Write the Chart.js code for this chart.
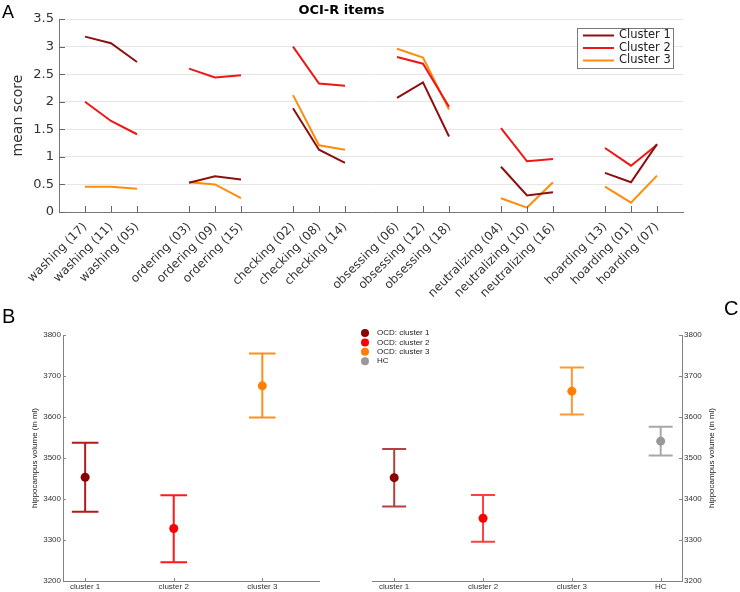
<!DOCTYPE html>
<html>
<head>
<meta charset="utf-8">
<script src="https://cdn.jsdelivr.net/npm/chart.js@4.4.0/dist/chart.umd.min.js"></script>
<style>
  body { margin: 0; background: #fff; width: 740px; height: 592px; position: relative; overflow: hidden; }
  canvas { position: absolute; }
</style>
</head>
<body>
<canvas id="chartA" width="740" height="300" style="left:0;top:0"></canvas>
<canvas id="chartB" width="370" height="302" style="left:0;top:290px"></canvas>
<canvas id="chartC" width="400" height="302" style="left:340px;top:290px"></canvas>
<script>
// panel A: OCI-R item means
const itemLabels = [
  "washing (17)", "washing (11)", "washing (05)",
  "ordering (03)", "ordering (09)", "ordering (15)",
  "checking (02)", "checking (08)", "checking (14)",
  "obsessing (06)", "obsessing (12)", "obsessing (18)",
  "neutralizing (04)", "neutralizing (10)", "neutralizing (16)",
  "hoarding (13)", "hoarding (01)", "hoarding (07)"
];
const itemPos = [1, 2, 3, 5, 6, 7, 9, 10, 11, 13, 14, 15, 17, 18, 19, 21, 22, 23];
const cluster1 = [3.18, 3.06, 2.72, 0.53, 0.65, 0.59, 1.88, 1.13, 0.89, 2.07, 2.35, 1.37, 0.82, 0.30, 0.36, 0.71, 0.54, 1.23];
const cluster2 = [2.00, 1.65, 1.41, 2.60, 2.44, 2.48, 3.00, 2.33, 2.29, 2.81, 2.69, 1.91, 1.52, 0.92, 0.96, 1.16, 0.84, 1.22];
const cluster3 = [0.46, 0.46, 0.42, 0.54, 0.50, 0.25, 2.12, 1.21, 1.13, 2.96, 2.80, 1.86, 0.25, 0.08, 0.54, 0.46, 0.17, 0.66];
const seriesNames = ["Cluster 1", "Cluster 2", "Cluster 3"];
const lineColors = ["#8c1010", "#f01616", "#ff8c0a"];

// panel B: hippocampus volume, clusters only
const groupsB = ["cluster 1", "cluster 2", "cluster 3"];
const meanB = [3453, 3328, 3676];
const lowerB = [3369, 3246, 3599];
const upperB = [3537, 3409, 3755];

// panel C: clusters vs healthy controls
const groupsC = ["cluster 1", "cluster 2", "cluster 3", "HC"];
const meanC = [3452, 3353, 3663, 3541];
const lowerC = [3382, 3296, 3606, 3506];
const upperC = [3522, 3410, 3721, 3576];
const legendC = ["OCD: cluster 1", "OCD: cluster 2", "OCD: cluster 3", "HC"];

const markerColors = ["#8b0000", "#ff0000", "#ff8000", "#999999"];
const barColorsB = ["#b01c1c", "#ff1a1a", "#ff9020"];
const barColorsC = ["#b44040", "#ff4040", "#ff9830", "#a8a8a8"];

const sans = "'Liberation Sans', Arial, sans-serif";
const dejavu = "'DejaVu Sans', sans-serif";

// break the line between item groups
function buildPoints(vals) {
  const pts = [];
  vals.forEach((v, i) => {
    pts.push({ x: itemPos[i], y: v });
    if (i < vals.length - 1 && itemPos[i + 1] - itemPos[i] > 1) pts.push({ x: itemPos[i] + 1, y: null });
  });
  return pts;
}

const panelLabel = {
  id: "panelLabel",
  afterDraw(chart, args, o) {
    const ctx = chart.ctx;
    ctx.save();
    ctx.font = o.size + "px " + sans;
    ctx.fillStyle = "#000";
    ctx.textAlign = "left";
    ctx.textBaseline = "alphabetic";
    ctx.fillText(o.text, o.x, o.y);
    ctx.restore();
  }
};

// small tick marks pointing into the plot
const inTicks = {
  id: "inTicks",
  afterDraw(chart, args, o) {
    const ctx = chart.ctx, a = chart.chartArea;
    ctx.save();
    ctx.strokeStyle = o.color;
    ctx.lineWidth = 1;
    ctx.beginPath();
    Object.values(chart.scales).forEach(s => {
      s.ticks.forEach(t => {
        const p = Math.round(s.getPixelForValue(t.value)) + 0.5;
        if (s.axis === "x") {
          ctx.moveTo(p, a.bottom); ctx.lineTo(p, a.bottom - o.len);
        } else if (s.position === "right") {
          ctx.moveTo(a.right, p); ctx.lineTo(a.right - o.len, p);
        } else {
          ctx.moveTo(a.left, p); ctx.lineTo(a.left + o.len, p);
        }
      });
    });
    ctx.stroke();
    ctx.restore();
  }
};

const boxLegend = {
  id: "boxLegend",
  afterDraw(chart, args, o) {
    if (!o.show) return;
    const ctx = chart.ctx;
    ctx.save();
    ctx.fillStyle = "#fff";
    ctx.fillRect(o.x, o.y, o.w, o.h);
    ctx.strokeStyle = "#7a7a7a";
    ctx.lineWidth = 1;
    ctx.strokeRect(o.x + 0.5, o.y + 0.5, o.w, o.h);
    ctx.font = "11.5px " + dejavu;
    ctx.textBaseline = "middle";
    ctx.fillStyle = "#222";
    chart.data.datasets.forEach((ds, i) => {
      const y = o.y + 7.5 + i * 12.5;
      ctx.strokeStyle = ds.borderColor;
      ctx.lineWidth = 2;
      ctx.beginPath();
      ctx.moveTo(o.x + 6, y); ctx.lineTo(o.x + 37, y);
      ctx.stroke();
      ctx.fillText(ds.label, o.x + 42, y);
    });
    ctx.restore();
  }
};

const errorBars = {
  id: "errorBars",
  beforeDatasetsDraw(chart, args, o) {
    if (!o.lower) return;
    const ctx = chart.ctx, sx = chart.scales.x, sy = chart.scales.y;
    ctx.save();
    ctx.lineWidth = 2;
    o.lower.forEach((lo, i) => {
      const x = i + 1;
      const px = sx.getPixelForValue(x);
      const yl = sy.getPixelForValue(lo), yu = sy.getPixelForValue(o.upper[i]);
      const x0 = sx.getPixelForValue(x - o.cap), x1 = sx.getPixelForValue(x + o.cap);
      ctx.strokeStyle = o.colors[i];
      ctx.beginPath();
      ctx.moveTo(px, yl); ctx.lineTo(px, yu);
      ctx.moveTo(x0, yl); ctx.lineTo(x1, yl);
      ctx.moveTo(x0, yu); ctx.lineTo(x1, yu);
      ctx.stroke();
    });
    ctx.restore();
  }
};

const dotLegend = {
  id: "dotLegend",
  afterDraw(chart, args, o) {
    if (!o.labels) return;
    const ctx = chart.ctx;
    ctx.save();
    ctx.font = "8px " + sans;
    ctx.textBaseline = "middle";
    o.labels.forEach((t, i) => {
      const y = o.y + i * 9.4;
      ctx.fillStyle = markerColors[i];
      ctx.beginPath();
      ctx.arc(o.x, y, 4, 0, Math.PI * 2);
      ctx.fill();
      ctx.fillStyle = "#222";
      ctx.fillText(t, o.x + 12, y);
    });
    ctx.restore();
  }
};

const sideTitle = {
  id: "sideTitle",
  afterDraw(chart, args, o) {
    if (!o.text) return;
    const ctx = chart.ctx, a = chart.chartArea;
    ctx.save();
    ctx.translate(o.x, (a.top + a.bottom) / 2);
    ctx.rotate(-Math.PI / 2);
    ctx.font = "8px " + sans;
    ctx.fillStyle = "#222";
    ctx.textAlign = "center";
    ctx.textBaseline = "middle";
    ctx.fillText(o.text, 0, 0);
    ctx.restore();
  }
};

const allPlugins = [panelLabel, inTicks, boxLegend, errorBars, dotLegend, sideTitle];

new Chart(document.getElementById("chartA"), {
  type: "line",
  data: {
    datasets: [cluster1, cluster2, cluster3].map((vals, i) => ({
      label: seriesNames[i],
      data: buildPoints(vals),
      borderColor: lineColors[i],
      borderWidth: 2,
      pointRadius: 0,
      tension: 0,
      spanGaps: false
    }))
  },
  options: {
    responsive: false,
    animation: false,
    layout: { padding: { left: 0, right: 57, top: 0, bottom: 0 } },
    plugins: {
      legend: { display: false },
      tooltip: { enabled: false },
      title: {
        display: true, text: "OCI-R items", color: "#000",
        font: { family: dejavu, size: 13, weight: "bold" },
        padding: { top: 3, bottom: 0.4 }
      },
      panelLabel: { text: "A", x: 2, y: 18, size: 18 },
      inTicks: { len: 6, color: "#666" },
      boxLegend: { show: true, x: 577, y: 28, w: 96, h: 40 }
    },
    scales: {
      x: {
        type: "linear", min: 0, max: 24,
        afterBuildTicks: s => { s.ticks = itemPos.map(v => ({ value: v })); },
        afterFit: s => { s.height = 88; },
        grid: { display: false, drawTicks: false },
        border: { color: "#777" },
        ticks: {
          autoSkip: false, minRotation: 45, maxRotation: 45, padding: 8,
          color: "#333", font: { family: dejavu, size: 12 },
          callback: v => itemLabels[itemPos.indexOf(v)]
        }
      },
      y: {
        min: 0, max: 3.5,
        afterFit: s => { s.width = 59; },
        grid: { color: "#e6e6e6", drawTicks: false },
        border: { color: "#777" },
        ticks: {
          stepSize: 0.5, padding: 5, color: "#333", font: { family: dejavu, size: 13 },
          callback: v => String(v)
        },
        title: {
          display: true, text: "mean score", color: "#333",
          font: { family: dejavu, size: 14 }, padding: { top: 10, bottom: 0 }
        }
      }
    }
  },
  plugins: allPlugins
});

function volumeChart(id, groups, means, lower, upper, barColors, cap, xmax, yPos, extra) {
  return new Chart(document.getElementById(id), {
    type: "scatter",
    data: {
      datasets: [{
        data: means.map((m, i) => ({ x: i + 1, y: m })),
        pointRadius: 4.5,
        pointBorderWidth: 0,
        pointBackgroundColor: markerColors.slice(0, means.length)
      }]
    },
    options: {
      responsive: false,
      animation: false,
      layout: { padding: extra.padding },
      plugins: Object.assign({
        legend: { display: false },
        tooltip: { enabled: false },
        inTicks: { len: 3, color: "#888" },
        errorBars: { lower: lower, upper: upper, colors: barColors, cap: cap }
      }, extra.plugins),
      scales: {
        x: {
          type: "linear", min: 0.75, max: xmax,
          afterBuildTicks: s => { s.ticks = groups.map((g, i) => ({ value: i + 1 })); },
          afterFit: s => { s.height = 11; },
          grid: { display: false, drawTicks: false },
          border: { color: "#808080" },
          ticks: {
            autoSkip: false, maxRotation: 0, padding: 1, color: "#333",
            font: { family: sans, size: 8 },
            callback: v => groups[v - 1]
          }
        },
        y: {
          position: yPos, min: 3200, max: 3800,
          afterFit: s => { s.width = extra.yWidth; },
          grid: { display: false, drawTicks: false },
          border: { color: "#808080" },
          ticks: {
            stepSize: 100, padding: 2, color: "#333", font: { family: sans, size: 8 },
            callback: v => String(v)
          },
          title: extra.yTitle
        }
      }
    },
    plugins: allPlugins
  });
}

volumeChart("chartB", groupsB, meanB, lowerB, upperB, barColorsB, 0.15, 3.64, "left", {
  padding: { left: 0, right: 51, top: 45, bottom: 0 },
  yWidth: 63,
  yTitle: {
    display: true, text: "hippocampus volume (in ml)", color: "#222",
    font: { family: sans, size: 8 }, padding: { top: 30, bottom: 0 }
  },
  plugins: { panelLabel: { text: "B", x: 2, y: 33, size: 20 } }
});

volumeChart("chartC", groupsC, meanC, lowerC, upperC, barColorsC, 0.135, 4.24, "right", {
  padding: { left: 32, right: 0, top: 45, bottom: 0 },
  yWidth: 58,
  yTitle: { display: false },
  plugins: {
    panelLabel: { text: "C", x: 384, y: 25, size: 20 },
    dotLegend: { labels: legendC, x: 25, y: 43 },
    sideTitle: { text: "hippocampus volume (in ml)", x: 372 }
  }
});
</script>
</body>
</html>
